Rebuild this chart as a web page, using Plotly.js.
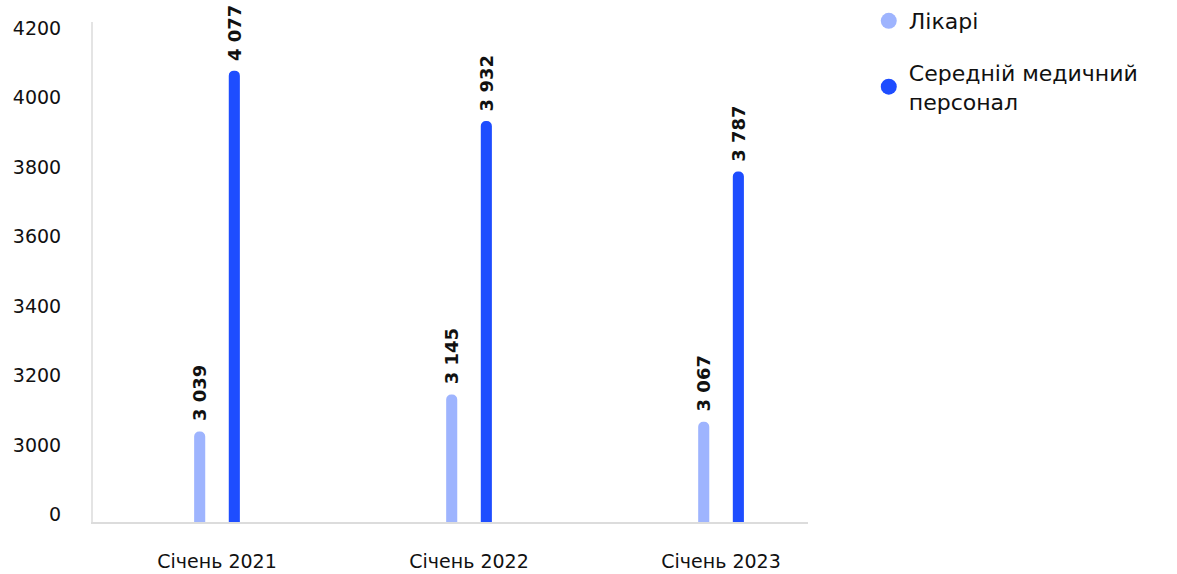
<!DOCTYPE html>
<html>
<head>
<meta charset="utf-8">
<script src="https://cdn.plot.ly/plotly-3.0.1.min.js"></script>
<style>html,body{margin:0;padding:0;background:#fff;}#chart{width:1177px;height:574px;}</style>
</head>
<body>
<div id="chart"></div>
<script>
var categories = ['Січень 2021', 'Січень 2022', 'Січень 2023'];
var doctors = [3039, 3145, 3067];
var nurses = [4077, 3932, 3787];
var seriesNames = ['Лікарі', 'Середній медичний<br>персонал'];
var tickValues = [2800, 3000, 3200, 3400, 3600, 3800, 4000, 4200];
var tickLabels = ['0', '3000', '3200', '3400', '3600', '3800', '4000', '4200'];

var FONT = 'DejaVu Sans, sans-serif';
var C1 = '#9eb4fe', C2 = '#1e4dff';
var OFF = 0.0687, W = 0.044;

function fmt(v){ var s = String(v); return s.slice(0, s.length-3) + ' ' + s.slice(-3); }

var idx = categories.map(function(c,i){return i;});

var traces = [
  {type:'bar', x: idx.map(function(i){return i-OFF;}), y: doctors, width: W, base: 0,
   marker:{color:C1, cornerradius: 6}, showlegend:false, hoverinfo:'y'},
  {type:'bar', x: idx.map(function(i){return i+OFF;}), y: nurses, width: W, base: 0,
   marker:{color:C2, cornerradius: 6}, showlegend:false, hoverinfo:'y'},
  {type:'scatter', mode:'markers', x:[null], y:[null], name: seriesNames[0], legendgroup:'a',
   marker:{color:C1, size:20, symbol:'circle'}},
  {type:'scatter', mode:'markers', x:[null], y:[null], name: seriesNames[1], legendgroup:'b',
   marker:{color:C2, size:20, symbol:'circle'}}
];

var annotations = [];
function addLabels(vals, dx){
  vals.forEach(function(v,i){
    annotations.push({x: i+dx, y: v, xref:'x', yref:'y', text: fmt(v), textangle:-90,
      showarrow:false, yanchor:'bottom', xanchor:'center', yshift:8,
      font:{family:FONT, size:18, color:'#111', weight:700}});
  });
}
addLabels(doctors, -OFF);
addLabels(nurses, OFF);

var layout = {
  width:1177, height:574,
  margin:{l:93, r:369, t:22, b:52, autoexpand:false},
  paper_bgcolor:'#fff', plot_bgcolor:'#fff',
  font:{family:FONT, color:'#111'},
  barmode:'overlay',
  xaxis:{
    range:[-0.492, 2.345], tickvals: idx, ticktext: categories,
    showgrid:false, zeroline:false, showline:true, linecolor:'#dcdcdc', linewidth:2,
    ticks:'', ticklabelstandoff: 21, tickfont:{family:FONT, size:19, color:'#111'}
  },
  yaxis:{
    range:[2778.4, 4217], tickvals: tickValues, ticktext: tickLabels,
    showgrid:false, zeroline:false, showline:true, linecolor:'#e4e4e4', linewidth:2,
    ticks:'', ticklabelstandoff: 26, tickfont:{family:FONT, size:19, color:'#111'}
  },
  legend:{x:1.085, xanchor:'left', y:1.044, yanchor:'top', font:{family:FONT, size:22, color:'#111'},
    itemsizing:'trace', traceorder:'grouped', tracegroupgap: 20, itemwidth:30},
  annotations: annotations,
  showlegend:true
};

Plotly.newPlot('chart', traces, layout, {displayModeBar:false, staticPlot:true});
</script>
</body>
</html>
